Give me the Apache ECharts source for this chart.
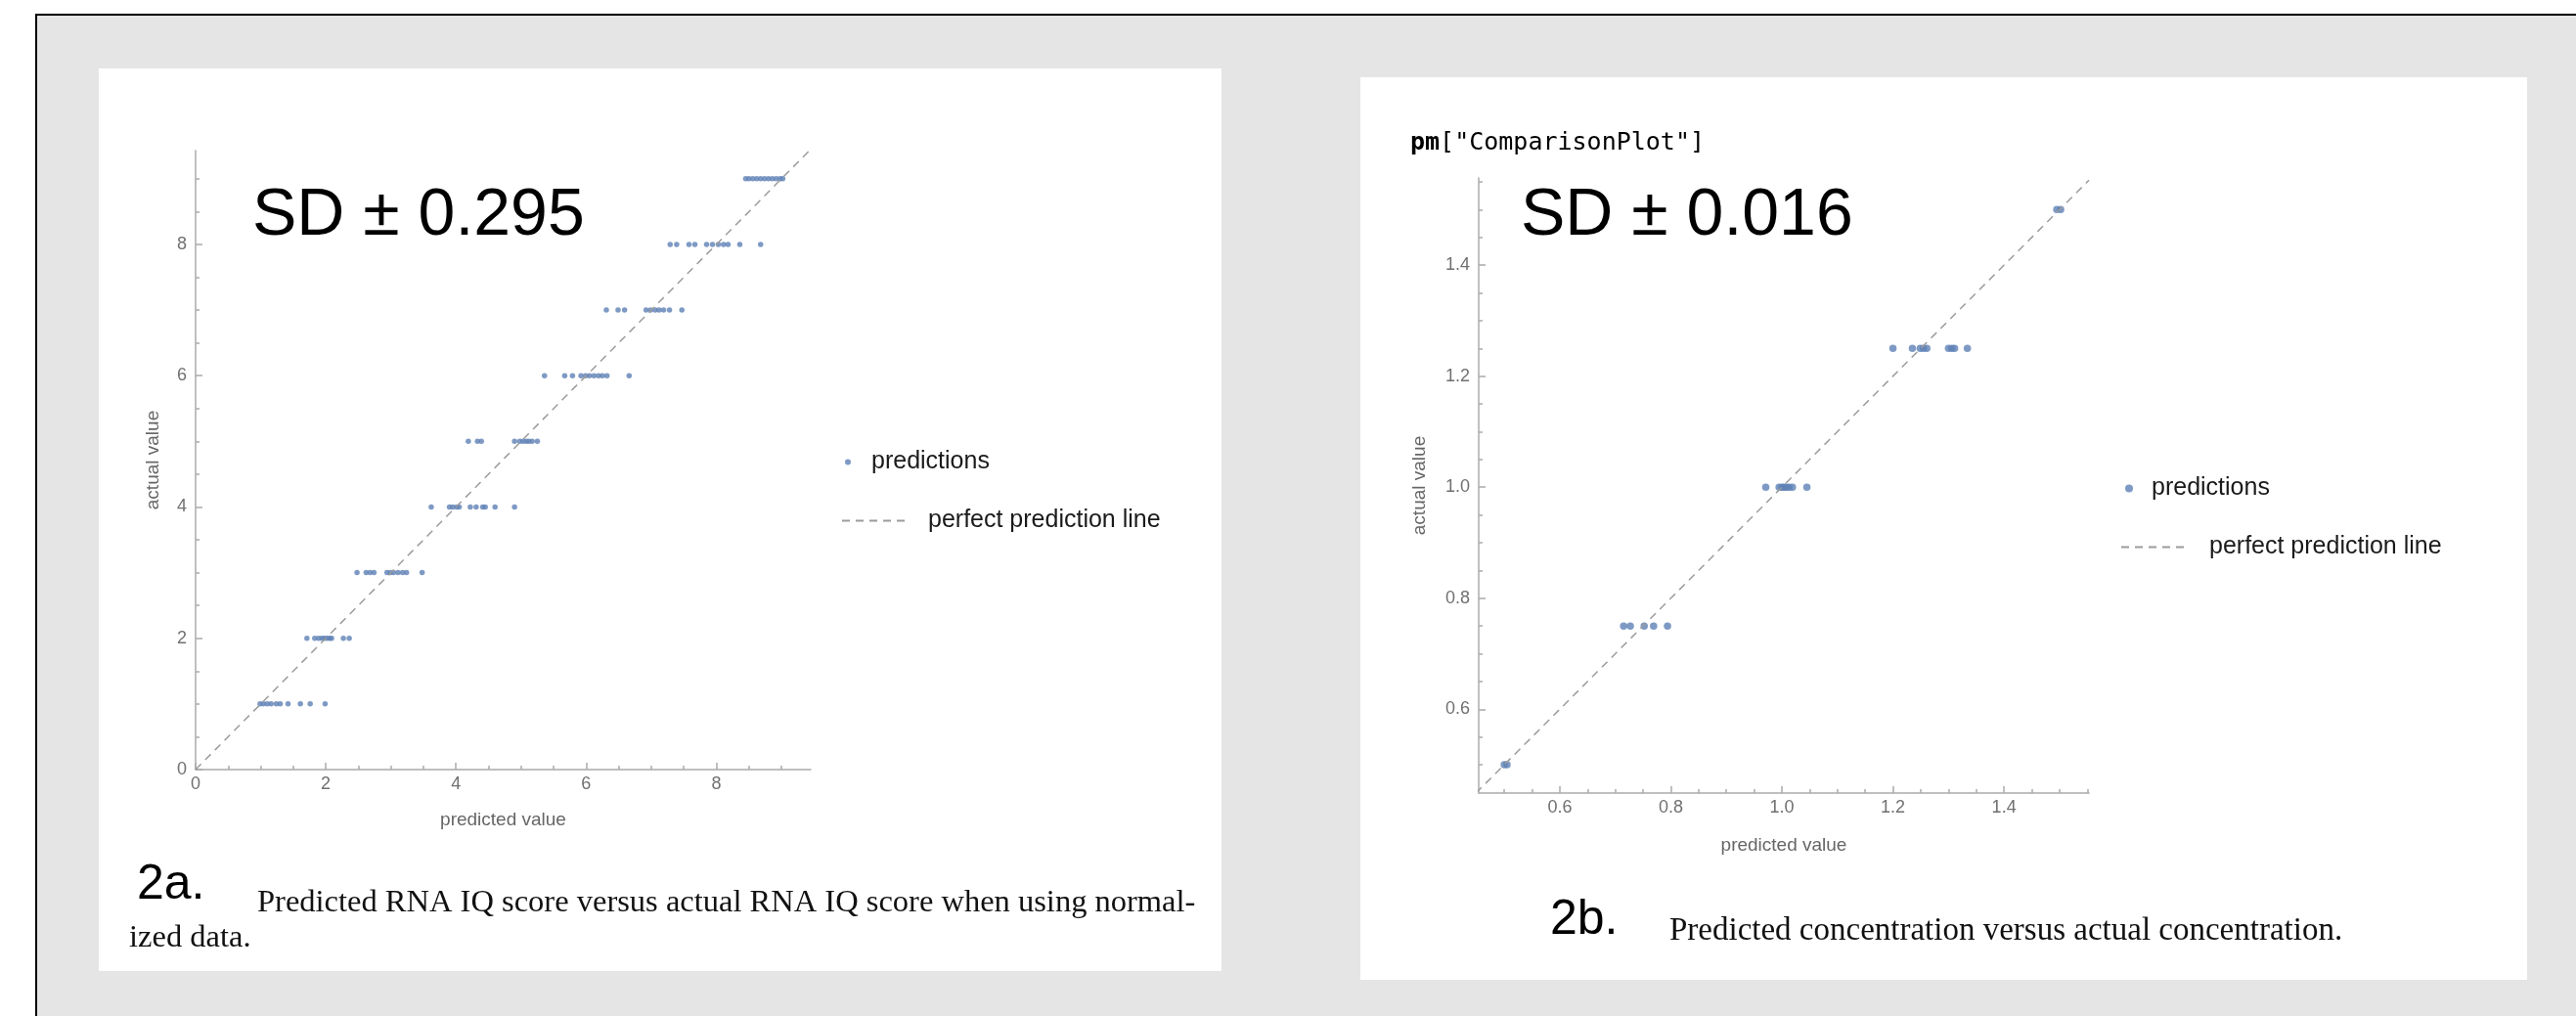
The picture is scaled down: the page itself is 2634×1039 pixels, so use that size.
<!DOCTYPE html>
<html>
<head>
<meta charset="utf-8">
<script src="https://cdn.jsdelivr.net/npm/echarts@6/dist/echarts.min.js"></script>
<style>
html, body { margin: 0; padding: 0; background: #fff; overflow: hidden; }
#main { width: 2634px; height: 1039px; }
</style>
</head>
<body>
<div id="main"></div>
<script>
// ---- 2a: RNA IQ score, predictions grouped by actual score ----
var actualA = [1, 2, 3, 4, 5, 6, 7, 8, 9];
var predictedA = [
  [0.99, 1.04, 1.10, 1.16, 1.24, 1.30, 1.42, 1.61, 1.76, 1.99],
  [1.71, 1.83, 1.89, 1.94, 1.98, 2.02, 2.06, 2.09, 2.27, 2.36],
  [2.48, 2.62, 2.68, 2.74, 2.94, 2.99, 3.04, 3.11, 3.18, 3.24, 3.48],
  [3.62, 3.90, 3.95, 4.01, 4.05, 4.22, 4.31, 4.41, 4.45, 4.60, 4.90],
  [4.19, 4.33, 4.39, 4.90, 4.98, 5.03, 5.08, 5.12, 5.17, 5.25],
  [5.36, 5.67, 5.79, 5.92, 5.99, 6.05, 6.12, 6.19, 6.25, 6.32, 6.66],
  [6.31, 6.49, 6.59, 6.92, 6.99, 7.06, 7.12, 7.19, 7.28, 7.47],
  [7.29, 7.39, 7.58, 7.67, 7.85, 7.94, 8.03, 8.11, 8.18, 8.36, 8.68],
  [8.45, 8.50, 8.56, 8.62, 8.68, 8.74, 8.80, 8.86, 8.92, 8.98, 9.02]
];
var perfectA = [0, 9.43];
var ticksA = [0, 2, 4, 6, 8];

// ---- 2b: concentration ----
var actualB = [0.5, 0.75, 1.0, 1.25, 1.5];
var predictedB = [
  [0.500, 0.505],
  [0.715, 0.727, 0.752, 0.769, 0.794],
  [0.971, 0.995, 1.000, 1.004, 1.008, 1.013, 1.019, 1.045],
  [1.200, 1.235, 1.249, 1.255, 1.261, 1.300, 1.306, 1.311, 1.334],
  [1.495, 1.502]
];
var perfectB = [0.449, 1.553];
var ticksB = [0.6, 0.8, 1.0, 1.2, 1.4];

var sdA = 'SD \u00b1 0.295';
var sdB = 'SD \u00b1 0.016';
var captionA1 = 'Predicted RNA IQ score versus actual RNA IQ score when using normal-';
var captionA2 = 'ized data.';
var captionB = 'Predicted concentration versus actual concentration.';

var blue = '#5e81b5';
var axisGray = '#ababab';
var sans = '"Liberation Sans", Arial, sans-serif';
var serif = '"Liberation Serif", "Times New Roman", serif';
var mono = '"DejaVu Sans Mono", monospace';

function toPoints(actual, predicted) {
  var out = [];
  actual.forEach(function (a, i) {
    predicted[i].forEach(function (p) { out.push([p, a]); });
  });
  return out;
}

// minor tick positions between the labelled ones
function minorTicks(from, to, step, majors) {
  var out = [];
  for (var v = from; v <= to + 1e-9; v += step) {
    var r = Math.round(v * 1000) / 1000;
    if (majors.indexOf(r) < 0) out.push(r);
  }
  return out;
}

function axes(dim, grid, min, max, majors, minors, name, nameGap, fmt) {
  var pos = dim === 'x' ? 'bottom' : 'left';
  var tickStyle = { color: axisGray, width: 1.5 };
  var main = {
    type: 'value', gridIndex: grid, min: min, max: max, position: pos,
    name: name, nameLocation: 'middle', nameGap: nameGap,
    nameTextStyle: { fontFamily: sans, fontSize: 19, color: '#666' },
    splitLine: { show: false },
    axisLine: { show: true, onZero: false, lineStyle: { color: axisGray, width: 1.5 } },
    axisTick: { show: true, inside: true, length: 7, customValues: majors, lineStyle: tickStyle },
    axisLabel: { customValues: majors, formatter: fmt, fontFamily: sans, fontSize: 18,
      color: '#707070', margin: dim === 'x' ? 6 : 9 }
  };
  var minor = {
    type: 'value', gridIndex: grid, min: min, max: max, position: pos,
    splitLine: { show: false },
    axisLine: { show: false, onZero: false },
    axisTick: { show: true, inside: true, length: 4, customValues: minors, lineStyle: tickStyle },
    axisLabel: { show: false }
  };
  return [main, minor];
}

var fmtA = function (v) { return String(v); };
var fmtB = function (v) { return v.toFixed(1); };

var chart = echarts.init(document.getElementById('main'));

var option = {
  animation: false,
  backgroundColor: '#fff',
  grid: [
    { left: 200, top: 154, width: 629, height: 633 },
    { left: 1512, top: 182, width: 624, height: 629 }
  ],
  xAxis: [].concat(
    axes('x', 0, 0, 9.45, ticksA, minorTicks(0.5, 9, 0.5, ticksA), 'predicted value', 42, fmtA),
    axes('x', 1, 0.454, 1.553, ticksB, minorTicks(0.5, 1.55, 0.05, ticksB), 'predicted value', 44, fmtB)
  ),
  yAxis: [].concat(
    axes('y', 0, 0, 9.43, ticksA, minorTicks(0.5, 9, 0.5, ticksA), 'actual value', 34, fmtA),
    axes('y', 1, 0.449, 1.557, ticksB, minorTicks(0.5, 1.55, 0.05, ticksB), 'actual value', 51, fmtB)
  ),
  legend: [
    { data: [{ name: 'predictions', icon: 'circle' }], left: 864, top: 460, padding: 0,
      itemWidth: 8, itemHeight: 6, selectedMode: false,
      textStyle: { fontFamily: sans, fontSize: 25, color: '#1a1a1a', padding: [0, 0, 0, 15] } },
    { data: ['perfect prediction line'], left: 860, top: 520, padding: 0,
      itemWidth: 68, itemHeight: 2, selectedMode: false,
      textStyle: { fontFamily: sans, fontSize: 25, color: '#1a1a1a', padding: [0, 0, 0, 15] } },
    { data: [{ name: 'predictions', icon: 'circle' }], left: 2173, top: 487, padding: 0,
      itemWidth: 8, itemHeight: 8, selectedMode: false,
      textStyle: { fontFamily: sans, fontSize: 25, color: '#1a1a1a', padding: [0, 0, 0, 14] } },
    { data: ['perfect prediction line'], left: 2168, top: 547, padding: 0,
      itemWidth: 70, itemHeight: 2, selectedMode: false,
      textStyle: { fontFamily: sans, fontSize: 25, color: '#1a1a1a', padding: [0, 0, 0, 15] } }
  ],
  series: [
    { name: 'perfect prediction line', type: 'line', xAxisIndex: 0, yAxisIndex: 0,
      data: [[perfectA[0], perfectA[0]], [perfectA[1], perfectA[1]]],
      symbol: 'none', color: '#9c9c9c', silent: true,
      lineStyle: { color: '#9c9c9c', width: 1.5, type: [8, 6] } },
    { name: 'predictions', type: 'scatter', xAxisIndex: 0, yAxisIndex: 0,
      data: toPoints(actualA, predictedA), symbolSize: 5.5,
      itemStyle: { color: blue } },
    { name: 'perfect prediction line', type: 'line', xAxisIndex: 2, yAxisIndex: 2,
      data: [[perfectB[0], perfectB[0]], [perfectB[1], perfectB[1]]],
      symbol: 'none', color: '#9c9c9c', silent: true,
      lineStyle: { color: '#9c9c9c', width: 1.5, type: [8, 6] } },
    { name: 'predictions', type: 'scatter', xAxisIndex: 2, yAxisIndex: 2,
      data: toPoints(actualB, predictedB), symbolSize: 7.5,
      itemStyle: { color: blue } }
  ],
  graphic: [
    // page frame and the two white figure panels
    { type: 'rect', z: -10, shape: { x: 37, y: 15, width: 2597, height: 1024 }, style: { fill: '#e5e5e5' } },
    { type: 'line', z: -9, shape: { x1: 36, y1: 15, x2: 2634, y2: 15 }, style: { stroke: '#000', lineWidth: 2 } },
    { type: 'line', z: -9, shape: { x1: 37, y1: 14, x2: 37, y2: 1039 }, style: { stroke: '#000', lineWidth: 2 } },
    { type: 'rect', z: -8, shape: { x: 101, y: 70, width: 1148, height: 923 }, style: { fill: '#fff' } },
    { type: 'rect', z: -8, shape: { x: 1391, y: 79, width: 1193, height: 923 }, style: { fill: '#fff' } },

    { type: 'text', x: 258, y: 221, style: { text: sdA, font: '68px ' + sans, fill: '#000', verticalAlign: 'middle' } },
    { type: 'text', x: 1555, y: 221, style: { text: sdB, font: '68px ' + sans, fill: '#000', verticalAlign: 'middle' } },

    { type: 'text', x: 1442, y: 146, style: {
      text: '{b|pm}{k|[}{s|"ComparisonPlot"}{k|]}', verticalAlign: 'middle',
      rich: {
        b: { fontFamily: mono, fontSize: 25, fontWeight: 'bold', color: '#111' },
        k: { fontFamily: mono, fontSize: 25, color: '#333' },
        s: { fontFamily: mono, fontSize: 25, color: '#5a5a5a' }
      } } },

    { type: 'text', x: 140, y: 905, style: { text: '2a.', font: '50px ' + sans, fill: '#000', verticalAlign: 'middle' } },
    { type: 'text', x: 263, y: 923, style: { text: captionA1, font: '32.5px ' + serif, fill: '#111', verticalAlign: 'middle' } },
    { type: 'text', x: 132, y: 959, style: { text: captionA2, font: '32.5px ' + serif, fill: '#111', verticalAlign: 'middle' } },

    { type: 'text', x: 1585, y: 941, style: { text: '2b.', font: '50px ' + sans, fill: '#000', verticalAlign: 'middle' } },
    { type: 'text', x: 1707, y: 952, style: { text: captionB, font: '33px ' + serif, fill: '#111', verticalAlign: 'middle' } }
  ]
};

chart.setOption(option);
</script>
</body>
</html>
